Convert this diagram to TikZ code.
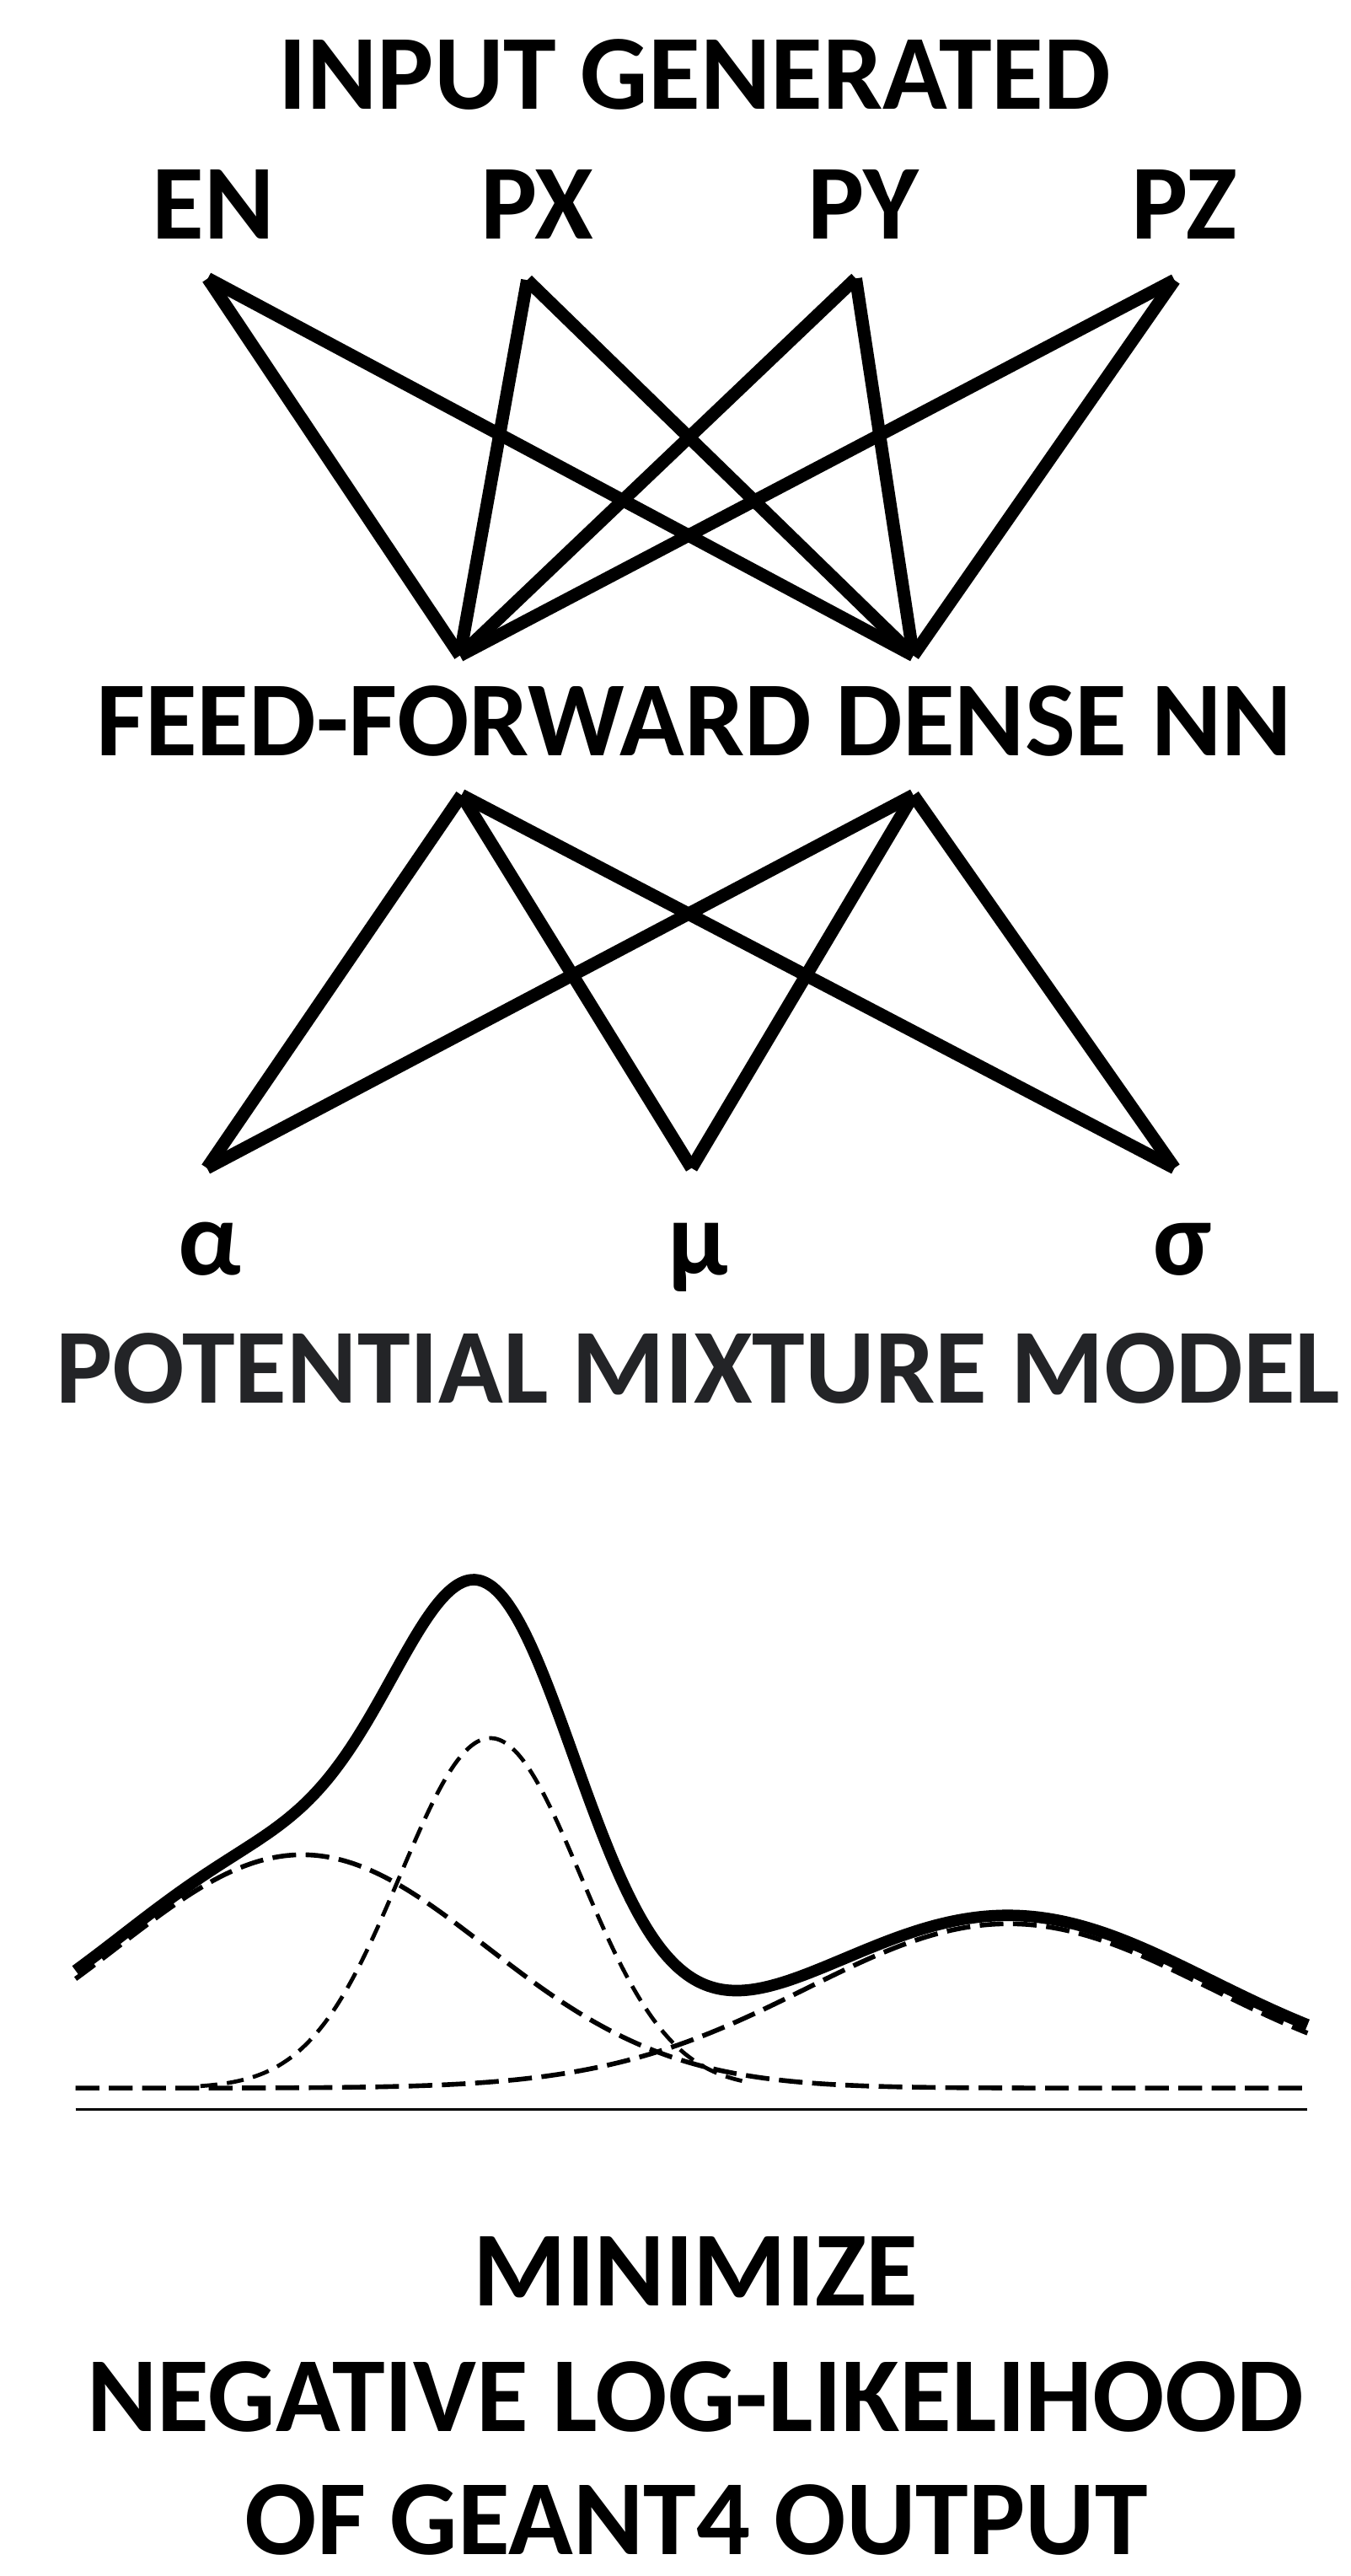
\documentclass[tikz,border=0pt]{standalone}
\usepackage{fontspec}
\setmainfont{Carlito}
\definecolor{potcol}{RGB}{35,36,39}
\tikzset{
  lbl/.style={font=\bfseries\fontsize{72}{80}\selectfont, inner sep=0pt, anchor=base},
  conn/.style={line width=8.6pt, line cap=butt},
  sumcurve/.style={line width=7.8pt, line join=round},
  comp/.style={line width=3.2pt, dash pattern=on 16pt off 6.5pt},
  compthin/.style={line width=2.7pt, dash pattern=on 11.5pt off 6.5pt},
  axisline/.style={line width=1.6pt}
}
\begin{document}
\begin{tikzpicture}[x=0.039cm,y=-0.039cm]
\useasboundingbox (0,0) rectangle (822,1568);
\fill[white] (0,0) rectangle (822,1568);

% titles and labels
\node[lbl] (title) at (423,66.5) {INPUT GENERATED};
\node[lbl] (lEN) at (130,145.5) {EN};
\node[lbl] (lPX) at (327,145.5) {PX};
\node[lbl] (lPY) at (525.5,145.5) {PY};
\node[lbl] (lPZ) at (721,145.5) {PZ};
\node[lbl] (ffnn) at (422.5,460) {FEED-FORWARD DENSE NN};
\node[lbl] (lal) at (127.5,776) {α};
\node[lbl] (lmu) at (425,776) {μ};
\node[lbl] (lsi) at (720,776) {σ};
\node[lbl, text=potcol] (pmm) at (425,854) {POTENTIAL MIXTURE MODEL};
\node[lbl] (min1) at (423.5,1403.5) {MINIMIZE};
\node[lbl] (min2) at (423.5,1480) {NEGATIVE LOG-LIKELIHOOD};
\node[lbl] (min3) at (424,1555) {OF GEANT4 OUTPUT};

% network points
\coordinate (tEN) at (126.5,169.5);
\coordinate (tPX) at (321,170.5);
\coordinate (tPY) at (521,169.5);
\coordinate (tPZ) at (715,170.5);
\coordinate (bL) at (280,399);
\coordinate (bR) at (556,399);
\coordinate (uL) at (281,484);
\coordinate (uR) at (556,484);
\coordinate (oAL) at (126,711);
\coordinate (oMU) at (421,711);
\coordinate (oSI) at (715,711);

\foreach \a in {tEN,tPX,tPY,tPZ}{
  \foreach \b in {bL,bR}{
    \draw[conn] (\a) -- (\b);
  }
}
\foreach \a in {uL,uR}{
  \foreach \b in {oAL,oMU,oSI}{
    \draw[conn] (\a) -- (\b);
  }
}

% mixture plot
\coordinate (axL) at (46,1284);
\coordinate (axR) at (796,1284);
\draw[axisline] (axL) -- (axR);

\draw[comp] plot[domain=46:796, samples=160, smooth]
  (\x, {1271 - 142*exp(max(-9, -0.5*((\x-184)/112)*((\x-184)/112)))});
\draw[comp] plot[domain=46:796, samples=160, smooth]
  (\x, {1271 - 100*exp(max(-9, -0.5*((\x-614)/123)*((\x-614)/123)))});
\draw[compthin] plot[domain=122:455, samples=120, smooth]
  (\x, {1271 - 213*exp(max(-9, -0.5*((\x-298.5)/55)*((\x-298.5)/55)))});

\draw[sumcurve] plot[domain=46:796, samples=220, smooth]
  (\x, {1266 - 142*exp(max(-9, -0.5*((\x-184)/112)*((\x-184)/112)))
              - 213*exp(max(-9, -0.5*((\x-298.5)/55)*((\x-298.5)/55)))
              - 100*exp(max(-9, -0.5*((\x-614)/123)*((\x-614)/123)))});
\end{tikzpicture}
\end{document}
